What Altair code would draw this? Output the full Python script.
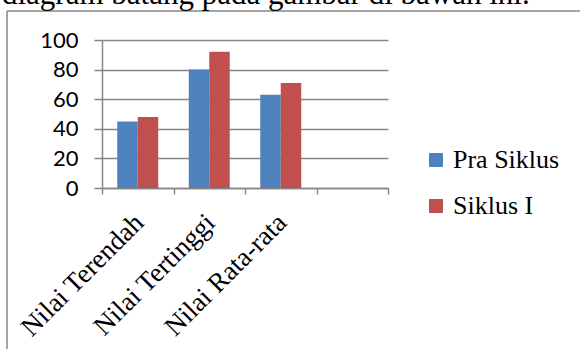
import altair as alt
import pandas as pd

categories = ["Nilai Terendah", "Nilai Tertinggi", "Nilai Rata-rata"]
series = ["Pra Siklus", "Siklus I"]
pra_siklus = [45, 80, 63]
siklus_1 = [48, 92, 71]
y_ticks = [0, 20, 40, 60, 80, 100]
heading = ["diagram batang pada gambar di bawah ini."]
colors = ["#4F81BD", "#C0504D"]

rows = []
for c, a, b in zip(categories, pra_siklus, siklus_1):
    rows.append({"kategori": c, "seri": series[0], "nilai": a})
    rows.append({"kategori": c, "seri": series[1], "nilai": b})
df = pd.DataFrame(rows)
x_domain = categories + [" "]

GRAY = "#868686"
SERIF = "Times New Roman, Liberation Serif, Tinos, serif"

bars = alt.Chart(df).mark_bar(opacity=1).encode(
    x=alt.X(
        "kategori:N",
        sort=x_domain,
        scale=alt.Scale(domain=x_domain, paddingInner=0, paddingOuter=0),
        axis=alt.Axis(
            title=None, labelAngle=-45, labelAlign="right", labelBaseline="top",
            labelFont=SERIF, labelFontSize=27, labelColor="black",
            labelPadding=15, labelOffset=-8, tickBand="extent", tickSize=6,
            tickColor=GRAY, tickWidth=1.5, domainColor=GRAY, domainWidth=1.5,
            grid=False, labelOverlap=False, labelBound=False, labelLimit=0,
        ),
    ),
    xOffset=alt.XOffset(
        "seri:N", sort=series,
        scale=alt.Scale(domain=series, paddingInner=0, paddingOuter=0.744),
    ),
    y=alt.Y(
        "nilai:Q",
        scale=alt.Scale(domain=[0, 100], nice=False),
        axis=alt.Axis(
            title=None, values=y_ticks, grid=True, gridColor=GRAY, gridWidth=1.5,
            tickSize=8, tickColor=GRAY, tickWidth=1.5, domainColor=GRAY,
            domainWidth=1.5, labelFont="Lato", labelFontSize=22,
            labelPadding=16, labelColor="black",
        ),
    ),
    color=alt.Color(
        "seri:N",
        sort=series,
        scale=alt.Scale(domain=series, range=colors),
        legend=alt.Legend(
            title=None, orient="none", legendX=321, legendY=107,
            symbolType="square", symbolSize=196, symbolStrokeWidth=0,
            symbolOpacity=1, labelFont=SERIF, labelFontSize=26,
            labelColor="black", rowPadding=20, labelOffset=4,
        ),
    ),
)

one = pd.DataFrame({"a": [0]})
border_left = alt.Chart(one).mark_rule(color=GRAY, strokeWidth=1.5).encode(
    x=alt.value(-95), y=alt.value(-29), y2=alt.value(400)
)
border_top = alt.Chart(one).mark_rule(color=GRAY, strokeWidth=1.5).encode(
    x=alt.value(-95), x2=alt.value(600), y=alt.value(-29)
)
head = alt.Chart(pd.DataFrame({"t": heading})).mark_text(
    font=SERIF, fontSize=31, align="left", baseline="alphabetic",
    color="black",
).encode(x=alt.value(-100), y=alt.value(-36), text="t:N")

chart = alt.layer(border_left, border_top, head, bars).properties(
    width=286, height=148,
    padding={"left": 102, "top": 40, "right": 192, "bottom": 161},
    autosize=alt.AutoSizeParams(type="none"),
    background="white",
).configure_view(stroke=None)

chart.save("out.html", embed_options={"renderer": "svg", "actions": False})
